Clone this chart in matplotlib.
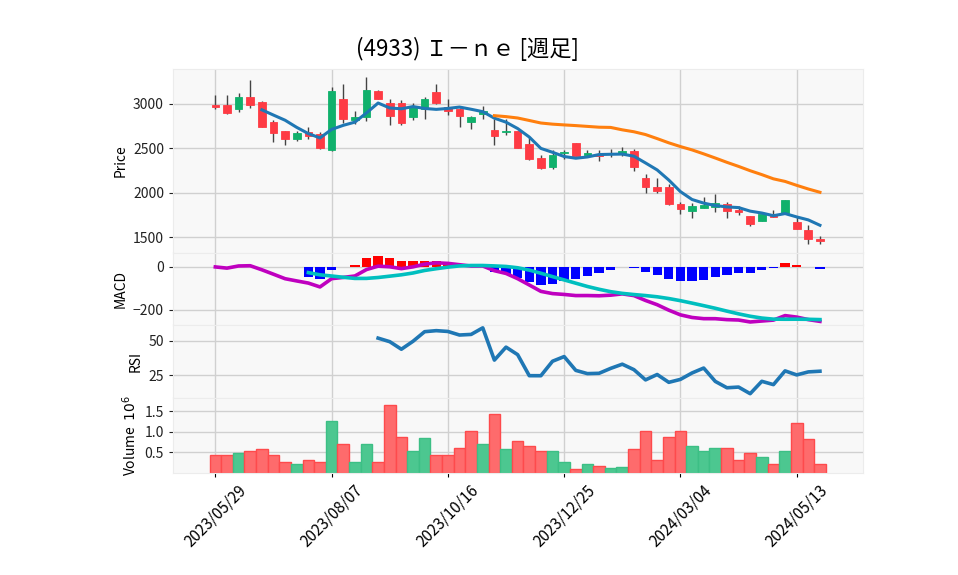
import numpy as np
import pandas as pd
import matplotlib
matplotlib.use("Agg")
import matplotlib.pyplot as plt
from matplotlib.patches import Rectangle

plt.rcParams['font.family'] = ['Noto Sans CJK JP', 'DejaVu Sans']

# weekly OHLC (yen) and volume (millions of shares), week index 0 = 2023/05/29
opens = [2990, 2990, 2940, 3075, 3020, 2795, 2695, 2608, 2688, 2658,
         2480, 3055, 2820, 2857, 3147, 3010, 3010, 2850, 2947, 3135,
         2970, 2947, 2800, 2884, 2706, 2680, 2695, 2548, 2390, 2296,
         2443, 2556, 2421, 2439, 2443, 2435, 2469, 2165, 2063, 2063,
         1879, 1796, 1830, 1841, 1879, 1804, 1743, 1687, 1766, 1773,
         1672, 1585, 1484]
highs = [3098, 3100, 3120, 3270, 3030, 2820, 2700, 2700, 2737, 2684,
         3190, 3225, 2918, 3300, 3158, 3053, 3050, 3008, 3076, 3226,
         3060, 2960, 2865, 2977, 2834, 2834, 2700, 2631, 2428, 2481,
         2480, 2560, 2477, 2481, 2496, 2511, 2496, 2210, 2172, 2097,
         1894, 1890, 1954, 1984, 1894, 1856, 1745, 1760, 1811, 1920,
         1728, 1638, 1518]
lows = [2940, 2890, 2910, 2955, 2740, 2570, 2535, 2580, 2608, 2495,
        2466, 2790, 2775, 2805, 3055, 2760, 2760, 2820, 2834, 3005,
        2872, 2745, 2720, 2834, 2540, 2654, 2505, 2370, 2263, 2263,
        2376, 2410, 2415, 2353, 2398, 2413, 2241, 2000, 1993, 1865,
        1766, 1721, 1825, 1789, 1721, 1751, 1630, 1679, 1730, 1770,
        1590, 1420, 1428]
closes = [2965, 2895, 3075, 2990, 2745, 2670, 2605, 2673, 2640, 2503,
          3147, 2835, 2853, 3158, 3060, 2868, 2790, 2977, 3053, 3008,
          2920, 2868, 2853, 2918, 2642, 2695, 2510, 2376, 2277, 2424,
          2458, 2413, 2447, 2413, 2440, 2469, 2293, 2067, 2021, 1871,
          1819, 1849, 1864, 1883, 1796, 1781, 1649, 1758, 1732, 1916,
          1593, 1480, 1457]
volumes = [0.42, 0.42, 0.49, 0.54, 0.57, 0.44, 0.27, 0.20, 0.32, 0.25,
           1.25, 0.71, 0.27, 0.71, 0.27, 1.65, 0.86, 0.54, 0.84, 0.44,
           0.42, 0.59, 1.01, 0.69, 1.44, 0.57, 0.76, 0.64, 0.52, 0.52,
           0.27, 0.09, 0.22, 0.17, 0.12, 0.15, 0.57, 1.01, 0.30, 0.86,
           1.01, 0.64, 0.54, 0.59, 0.59, 0.30, 0.47, 0.39, 0.22, 0.54,
           1.20, 0.81, 0.22]
tick_labels = ['2023/05/29', '2023/08/07', '2023/10/16', '2023/12/25',
               '2024/03/04', '2024/05/13']
title = '(4933) Ｉ－ｎｅ [週足]'

UP, DOWN = '#10b16c', '#fe3b44'
VUP, VDOWN = '#4cc790', '#fe6b6c'

x = np.arange(len(closes))
close = pd.Series(closes, dtype=float)

# indicators derived from the closes
ma5 = close.rolling(5).mean()
ma25 = close.rolling(25).mean()
macd = close.ewm(span=12, adjust=False).mean() - close.ewm(span=26, adjust=False).mean()
signal = macd.rolling(9).mean()
hist = macd - signal
diff = close.diff()
gain = diff.clip(lower=0).rolling(14).mean()
loss = (-diff.clip(upper=0)).rolling(14).mean()
rsi = 100 * gain / (gain + loss)

fig = plt.figure(figsize=(9.58, 5.75), dpi=100)
left, width = 0.1806, 0.7202
ax1 = fig.add_axes([left, 0.5605, width, 0.319])
ax2 = fig.add_axes([left, 0.4343, width, 0.1262], sharex=ax1)
ax3 = fig.add_axes([left, 0.3073, width, 0.1270], sharex=ax1)
ax4 = fig.add_axes([left, 0.1779, width, 0.1294], sharex=ax1)

for ax in (ax1, ax2, ax3, ax4):
    ax.set_facecolor('#f8f8f8')
    ax.grid(True, color='#d0d0d0', linewidth=1.0)
    ax.set_axisbelow(True)
    for s in ax.spines.values():
        s.set_color('#ececec')
    ax.tick_params(axis='y', labelsize=10, length=3, colors='#222222')
    ax.tick_params(axis='x', length=3)

# candles
for i in x:
    o, h, l, c = opens[i], highs[i], lows[i], closes[i]
    col = UP if c >= o else DOWN
    ax1.vlines(i, l, h, color='#444444', linewidth=1.0, zorder=2)
    ax1.add_patch(Rectangle((i - 0.33, min(o, c)), 0.66, max(abs(c - o), 6),
                            facecolor=col, edgecolor=col, linewidth=0.6, zorder=3))
ax1.plot(x, ma5, color='#1f77b4', linewidth=2.2, zorder=4)
ax1.plot(x, ma25, color='#ff7f0e', linewidth=2.2, zorder=4)
ax1.set_ylim(1327, 3390)
ax1.set_yticks([1500, 2000, 2500, 3000])
ax1.set_ylabel('Price', fontsize=10)

# MACD
hcol = ['red' if v >= 0 else 'blue' for v in hist.fillna(0)]
ax2.bar(x, hist, width=0.8, color=hcol, zorder=2)
ax2.plot(x, macd, color='m', linewidth=2.6, zorder=3)
ax2.plot(x, signal, color='c', linewidth=2.6, zorder=3)
ax2.set_ylim(-271, 66)
ax2.set_yticks([-200, 0])
ax2.set_ylabel('MACD', fontsize=10)

# RSI
ax3.plot(x, rsi, color='#1f77b4', linewidth=2.6)
ax3.set_ylim(8.2, 61.4)
ax3.set_yticks([25, 50])
ax3.set_ylabel('RSI', fontsize=10)

# volume
vcol = [VUP if (closes[i] >= (closes[i - 1] if i else opens[i])) else VDOWN for i in x]
vedge = ['#3cbf85' if c == VUP else '#fe4a4c' for c in vcol]
ax4.bar(x, volumes, width=1.0, color=vcol, edgecolor=vedge, linewidth=1.0, zorder=2)
ax4.set_ylim(0, 1.81)
ax4.set_yticks([0.5, 1.0, 1.5])
ax4.set_ylabel('Volume  $10^6$', fontsize=10)

ax4.set_xlim(-3.64, 55.7)
ax4.set_xticks(x[::10])
ax4.set_xticklabels(tick_labels, rotation=45, ha='center', fontsize=11)
for ax in (ax1, ax2, ax3):
    ax.tick_params(axis='x', labelbottom=False, length=0)

fig.suptitle(title, x=0.488, y=0.935, fontsize=16)
fig.savefig('out.png', dpi=100)
